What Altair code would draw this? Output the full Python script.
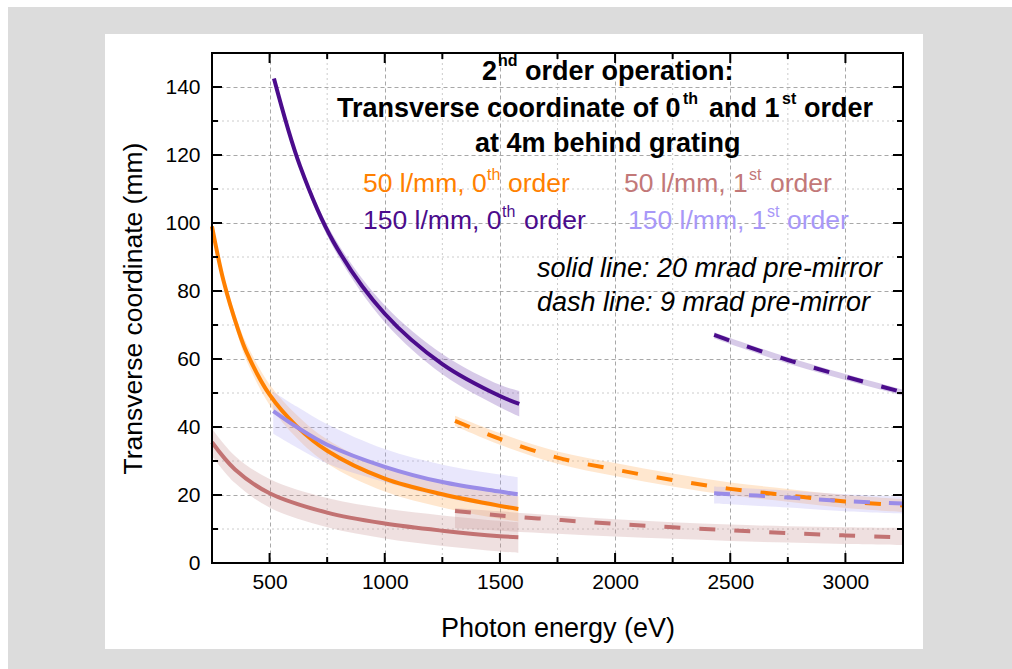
import altair as alt
import pandas as pd

# ---------------- data ----------------
# photon energy (eV) -> transverse coordinate (mm); lo/hi = shaded band
E_50_0_20  = [250, 300, 364, 400, 500, 618, 750, 1000, 1250, 1500, 1580]
Y_50_0_20  = [99, 83, 68.5, 62, 49.5, 40.2, 33, 24.8, 20.2, 16.8, 15.9]
LO_50_0_20 = [98, 81.5, 66.5, 59.5, 46.5, 36.8, 29.3, 21, 16.3, 13, 12.2]
HI_50_0_20 = [100, 84.5, 70.5, 64.5, 52.5, 43.5, 36.3, 28, 23.5, 20.5, 19.6]

E_50_1_20  = [250, 350, 500, 750, 1000, 1250, 1500, 1580]
Y_50_1_20  = [35.5, 27.5, 20.5, 14.8, 11.6, 9.5, 7.9, 7.6]
LO_50_1_20 = [31.5, 23.5, 16.3, 10.5, 7.2, 5.0, 3.4, 3.0]
HI_50_1_20 = [39.5, 31.5, 24.7, 19.1, 16.0, 14.0, 12.4, 12.0]

E_150_0_20  = [519, 632, 777, 1000, 1250, 1500, 1584]
Y_150_0_20  = [142.5, 116.8, 94.5, 73.3, 58.5, 49.1, 46.8]
LO_150_0_20 = [142, 115.7, 92.8, 70.8, 55.5, 45.8, 43.1]
HI_150_0_20 = [143, 117.9, 96.2, 75.8, 61.5, 52.4, 50.6]

E_150_1_20  = [516, 618, 750, 1000, 1250, 1500, 1577]
Y_150_1_20  = [44.7, 40, 34.8, 28.3, 23.8, 21, 20.2]
LO_150_1_20 = [38, 34, 29.3, 23.8, 19.4, 16.2, 15.3]
HI_150_1_20 = [50.4, 46, 40.8, 33.5, 28.9, 26, 25.2]

E_50_0_9  = [1305, 1500, 1750, 2000, 2250, 2500, 2750, 3000, 3250]
Y_50_0_9  = [41.8, 36.5, 31, 27.5, 24.4, 21.8, 19.9, 18.1, 16.9]
LO_50_0_9 = [40.3, 34.8, 29.2, 25.6, 22.5, 19.9, 18, 16.2, 15]
HI_50_0_9 = [43.3, 38.2, 32.8, 29.4, 26.3, 23.7, 21.8, 20, 18.8]

E_50_1_9  = [1305, 1500, 1750, 2000, 2250, 2500, 2750, 3000, 3250]
Y_50_1_9  = [15.3, 14.0, 12.7, 11.5, 10.5, 9.6, 8.8, 8.1, 7.5]
LO_50_1_9 = [10.2, 9.5, 8.6, 7.8, 7.1, 6.5, 6.0, 5.6, 5.3]
HI_50_1_9 = [16.2, 15.2, 14.0, 12.9, 12.0, 11.3, 10.8, 10.5, 10.3]

E_150_0_9  = [2430, 2500, 2750, 3000, 3250]
Y_150_0_9  = [67.1, 65.4, 59.7, 54.8, 50.2]
LO_150_0_9 = [66.1, 64.4, 58.7, 53.8, 49.2]
HI_150_0_9 = [67.9, 66.2, 60.5, 55.6, 51.0]

E_150_1_9  = [2430, 2750, 3000, 3250]
Y_150_1_9  = [20.5, 19.3, 18.2, 17.5]
LO_150_1_9 = [17.5, 16.3, 15.2, 14.5]
HI_150_1_9 = [22.5, 21.3, 20.2, 19.5]

KEYS = ["50-0", "50-1", "150-0", "150-1"]
LINE_COLORS = ["#ff8000", "#c27272", "#4b0c8c", "#9a8ce8"]
TEXT_COLORS = ["#ff8000", "#c27878", "#4b0c8c", "#a898f8"]
BAND_COLORS = ["#ffb060", "#c89090", "#6a3aa8", "#a8a0f4"]
BAND_OPAC = [0.30, 0.25, 0.55, 0.30]

X_MAJOR = [500, 1000, 1500, 2000, 2500, 3000]
X_MINOR = [750, 1250, 1750, 2250, 2750]
Y_MAJOR = [0, 20, 40, 60, 80, 100, 120, 140]
Y_MINOR = [10, 30, 50, 70, 90, 110, 130]

X_TITLE = "Photon energy (eV)"
Y_TITLE = "Transverse coordinate (mm)"

# text segments: (text, left x, baseline y, size, weight, style, colour)
BLACK = "black"
SEGMENTS = [
    ("2", 482, 80, 27, "bold", "normal", BLACK),
    ("nd", 498, 66, 16, "bold", "normal", BLACK),
    ("order operation:", 525, 80, 27, "bold", "normal", BLACK),
    ("Transverse coordinate of 0", 337, 117, 27, "bold", "normal", BLACK),
    ("th", 683, 104, 16, "bold", "normal", BLACK),
    ("and 1", 709, 117, 27, "bold", "normal", BLACK),
    ("st", 782, 104, 16, "bold", "normal", BLACK),
    ("order", 804, 117, 27, "bold", "normal", BLACK),
    ("at 4m behind grating", 475, 152, 27, "bold", "normal", BLACK),
    ("50 l/mm, 0", 363, 192, 26.5, "normal", "normal", TEXT_COLORS[0]),
    ("th", 487, 180, 16, "normal", "normal", TEXT_COLORS[0]),
    ("order", 508, 192, 26.5, "normal", "normal", TEXT_COLORS[0]),
    ("50 l/mm, 1", 624, 192, 26.5, "normal", "normal", TEXT_COLORS[1]),
    ("st", 749, 180, 16, "normal", "normal", TEXT_COLORS[1]),
    ("order", 770, 192, 26.5, "normal", "normal", TEXT_COLORS[1]),
    ("150 l/mm, 0", 363, 229, 26.5, "normal", "normal", TEXT_COLORS[2]),
    ("th", 502, 217, 16, "normal", "normal", TEXT_COLORS[2]),
    ("order", 524, 229, 26.5, "normal", "normal", TEXT_COLORS[2]),
    ("150 l/mm, 1", 628, 229, 26.5, "normal", "normal", TEXT_COLORS[3]),
    ("st", 767, 217, 16, "normal", "normal", TEXT_COLORS[3]),
    ("order", 787, 229, 26.5, "normal", "normal", TEXT_COLORS[3]),
    ("solid line: 20 mrad pre-mirror", 537, 277, 27, "normal", "italic", BLACK),
    ("dash line: 9 mrad pre-mirror", 537, 311, 27, "normal", "italic", BLACK),
]

# ---------------- layout ----------------
W, H = 691, 510
PADL, PADT = 212, 53
FONT = "Liberation Sans"
GRAY = "#dcdcdc"
INTERP = "catmull-rom"

SERIES = [
    ("50-0", "20", E_50_0_20, Y_50_0_20, LO_50_0_20, HI_50_0_20),
    ("50-1", "20", E_50_1_20, Y_50_1_20, LO_50_1_20, HI_50_1_20),
    ("150-0", "20", E_150_0_20, Y_150_0_20, LO_150_0_20, HI_150_0_20),
    ("150-1", "20", E_150_1_20, Y_150_1_20, LO_150_1_20, HI_150_1_20),
    ("50-0", "9", E_50_0_9, Y_50_0_9, LO_50_0_9, HI_50_0_9),
    ("50-1", "9", E_50_1_9, Y_50_1_9, LO_50_1_9, HI_50_1_9),
    ("150-0", "9", E_150_0_9, Y_150_0_9, LO_150_0_9, HI_150_0_9),
    ("150-1", "9", E_150_1_9, Y_150_1_9, LO_150_1_9, HI_150_1_9),
]
rows = []
for key, mirror, E, Y, LO, HI in SERIES:
    for e, y, lo, hi in zip(E, Y, LO, HI):
        rows.append(dict(key=key, mirror=mirror, E=e, v=y, lo=lo, hi=hi))
df = pd.DataFrame(rows)

one = pd.DataFrame({"a": [0]})
xmaj = pd.DataFrame({"E": X_MAJOR})
xmin = pd.DataFrame({"E": X_MINOR})
ymaj = pd.DataFrame({"v": Y_MAJOR[1:]})
ymin = pd.DataFrame({"v": Y_MINOR})

XS = alt.Scale(domain=[250, 3250], nice=False, zero=False)
YS = alt.Scale(domain=[0, 150], nice=False, zero=False)

x_axis = alt.Axis(values=X_MAJOR, title=X_TITLE, grid=True, gridDash=[4, 3],
                  gridColor="#a8a8a8", gridWidth=1, ticks=False, tickSize=0,
                  domain=False, labelFont=FONT, labelFontSize=21, labelColor=BLACK,
                  labelPadding=8, titleFont=FONT, titleFontSize=27,
                  titleFontWeight="normal", titleColor=BLACK, titlePadding=23,
                  format="d", labelFlush=False)
y_axis = alt.Axis(values=Y_MAJOR, title=Y_TITLE, grid=True, gridDash=[4, 3],
                  gridColor="#a8a8a8", gridWidth=1, ticks=False, tickSize=0,
                  domain=False, labelFont=FONT, labelFontSize=21, labelColor=BLACK,
                  labelPadding=12, titleFont=FONT, titleFontSize=26.5,
                  titleFontWeight="normal", titleColor=BLACK, titlePadding=17,
                  format="d", labelFlush=False)

X = lambda f="E": alt.X(f"{f}:Q", scale=XS, axis=x_axis)
Yc = lambda f="v": alt.Y(f"{f}:Q", scale=YS, axis=y_axis)


def rect(x0, x1, y0, y1, color):
    return alt.Chart(one).mark_rect(color=color).encode(
        x=alt.value(x0 - PADL), x2=alt.value(x1 - PADL),
        y=alt.value(y0 - PADT), y2=alt.value(y1 - PADT))


# grey surround (outside the white panel)
layers = [
    rect(8, 105, 7, 669, GRAY),
    rect(923, 1012, 7, 669, GRAY),
    rect(105, 923, 7, 34, GRAY),
    rect(105, 923, 649, 669, GRAY),
]

# minor grid
layers.append(alt.Chart(xmin).mark_rule(color="#cccccc", strokeDash=[2, 3], strokeWidth=1).encode(
    x=X(), y=alt.value(0), y2=alt.value(H)))
layers.append(alt.Chart(ymin).mark_rule(color="#cccccc", strokeDash=[2, 3], strokeWidth=1).encode(
    y=Yc(), x=alt.value(0), x2=alt.value(W)))

# bands
layers.append(alt.Chart(df).mark_area(interpolate=INTERP).encode(
    x=X(), y=Yc("lo"), y2="hi:Q",
    fill=alt.Fill("key:N", scale=alt.Scale(domain=KEYS, range=BAND_COLORS), legend=None),
    fillOpacity=alt.FillOpacity("key:N", scale=alt.Scale(domain=KEYS, range=BAND_OPAC), legend=None),
    detail="mirror:N"))

stroke = alt.Stroke("key:N", scale=alt.Scale(domain=KEYS, range=LINE_COLORS), legend=None)
layers.append(alt.Chart(df).transform_filter("datum.mirror == '20'").mark_line(
    interpolate=INTERP, strokeWidth=4).encode(x=X(), y=Yc(), stroke=stroke, detail="mirror:N"))
layers.append(alt.Chart(df).transform_filter("datum.mirror == '9'").mark_line(
    interpolate=INTERP, strokeWidth=4, strokeDash=[16, 19]).encode(
    x=X(), y=Yc(), stroke=stroke, detail="mirror:N"))

# inward ticks on all four sides
TK = dict(color=BLACK, strokeWidth=2)
for d, ln in ((xmaj, 10), (xmin, 6)):
    layers.append(alt.Chart(d).mark_rule(**TK).encode(x=X(), y=alt.value(H), y2=alt.value(H - ln)))
    layers.append(alt.Chart(d).mark_rule(**TK).encode(x=X(), y=alt.value(0), y2=alt.value(ln)))
for d, ln in ((ymaj, 10), (ymin, 6)):
    layers.append(alt.Chart(d).mark_rule(**TK).encode(y=Yc(), x=alt.value(0), x2=alt.value(ln)))
    layers.append(alt.Chart(d).mark_rule(**TK).encode(y=Yc(), x=alt.value(W), x2=alt.value(W - ln)))

# frame
layers.append(alt.Chart(one).mark_rect(filled=False, stroke=BLACK, strokeWidth=2).encode(
    x=alt.value(0), x2=alt.value(W), y=alt.value(0), y2=alt.value(H)))

# annotations
for txt, x0, yb, size, weight, style, col in SEGMENTS:
    layers.append(alt.Chart(one).mark_text(
        text=txt, align="left", baseline="alphabetic", font=FONT, fontSize=size,
        fontWeight=weight, fontStyle=style, color=col).encode(
        x=alt.value(x0 - PADL), y=alt.value(yb - PADT)))

chart = alt.layer(*layers).properties(
    width=W, height=H, background="white",
    autosize=alt.AutoSizeParams(type="none"),
    padding={"left": PADL, "top": PADT, "right": 1012 - PADL - W, "bottom": 669 - PADT - H},
).configure_view(stroke=None)

chart.save("out.html", embed_options={"renderer": "svg", "actions": False})
